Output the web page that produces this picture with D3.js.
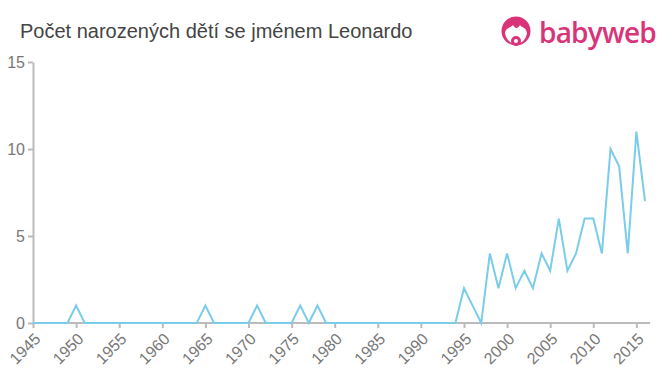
<!DOCTYPE html>
<html>
<head>
<meta charset="utf-8">
<script src="https://cdn.jsdelivr.net/npm/d3@7"></script>
<style>
  body { margin: 0; background: #fff; }
  svg { font-family: "Liberation Sans", Arial, sans-serif; }
</style>
</head>
<body>
<div id="chart"></div>
<script>
// roky a počty
const years = d3.range(1945, 2017)
const counts = [
  0, 0, 0, 0, 0, 1, 0, 0, 0, 0,   // 1945-1954
  0, 0, 0, 0, 0, 0, 0, 0, 0, 0,   // 1955-1964
  1, 0, 0, 0, 0, 0, 1, 0, 0, 0,   // 1965-1974
  0, 1, 0, 1, 0, 0, 0, 0, 0, 0,   // 1975-1984
  0, 0, 0, 0, 0, 0, 0, 0, 0, 0,   // 1985-1994
  2, 1, 0, 4, 2, 4, 2, 3, 2, 4,   // 1995-2004
  3, 6, 3, 4, 6, 6, 4, 10, 9, 4,  // 2005-2014
  11, 7                           // 2015-2016
]
const xTicks = d3.range(1945, 2016, 5)
const yTicks = [0, 5, 10, 15]

const width = 660
const height = 375
const margin = { left: 33, right: 12, top: 62, bottom: 52 }

const svg = d3.select('#chart').append('svg')
  .attr('width', width)
  .attr('height', height)

const x = d3.scaleLinear()
  .domain([1945, 2016])
  .range([margin.left, 645])
const y = d3.scaleLinear()
  .domain([0, 15])
  .range([height - margin.bottom, margin.top])

// titulek
svg.append('text')
  .attr('x', 20)
  .attr('y', 38)
  .style('font-size', '20px')
  .attr('fill', '#444')
  .text('Počet narozených dětí se jménem Leonardo')

// logo
const logo = svg.append('g').attr('transform', 'translate(516, 31)')
logo.append('circle').attr('r', 14.5).attr('fill', '#d9347a')
logo.append('path')
  .attr('d', 'M-11,2 C-10,-4 -5,-3 -3,-6 C-1,-2 2,-2 4,-6 C6,-3 10,-4 11,2 C10,9 5,13 0,13 C-5,13 -10,9 -11,2 Z')
  .attr('fill', '#fff')
logo.append('circle').attr('cx', 0).attr('cy', 10).attr('r', 5).attr('fill', '#d9347a')
logo.append('circle').attr('cx', 0).attr('cy', 10).attr('r', 2).attr('fill', '#fff')
svg.append('text')
  .attr('x', 539)
  .attr('y', 43)
  .style('font-size', '28px')
  .style('font-family', '"Open Sans", sans-serif')
  .style('font-weight', 600)
  .attr('letter-spacing', -0.8)
  .attr('fill', '#d9347a')
  .text('babyweb')

// osy
const xAxis = g => g
  .attr('transform', `translate(0, ${y(0)})`)
  .call(d3.axisBottom(x).tickValues(xTicks).tickFormat(d3.format('d')).tickSize(5).tickSizeOuter(0))
  .call(g => g.select('.domain').attr('stroke', '#bbb').attr('stroke-width', 2)
    .attr('d', `M${margin.left},0H650`))
  .call(g => g.selectAll('.tick line').attr('stroke', '#bbb').attr('stroke-width', 2))
  .call(g => g.selectAll('.tick text')
    .attr('fill', '#777')
    .style('font-size', '16px')
    .attr('text-anchor', 'end')
    .attr('x', 0)
    .attr('y', 0)
    .attr('dy', '0.35em')
    .attr('transform', 'translate(4, 13) rotate(-45)'))

const yAxis = g => g
  .attr('transform', `translate(${margin.left}, 0)`)
  .call(d3.axisLeft(y).tickValues(yTicks).tickSize(5).tickSizeOuter(0))
  .call(g => g.select('.domain').attr('stroke', '#bbb').attr('stroke-width', 2))
  .call(g => g.selectAll('.tick line').attr('stroke', '#bbb').attr('stroke-width', 2))
  .call(g => g.selectAll('.tick text')
    .attr('fill', '#777')
    .style('font-size', '16px')
    .attr('x', -8))

svg.append('g').call(yAxis)
svg.append('g').call(xAxis)
svg.selectAll('.tick text').attr('font-family', null)

// čára
const line = d3.line()
  .x((d, i) => x(years[i]))
  .y(d => y(d))

svg.append('path')
  .datum(counts)
  .attr('fill', 'none')
  .attr('stroke', '#79cdea')
  .attr('stroke-width', 2)
  .attr('d', line)
</script>
</body>
</html>
